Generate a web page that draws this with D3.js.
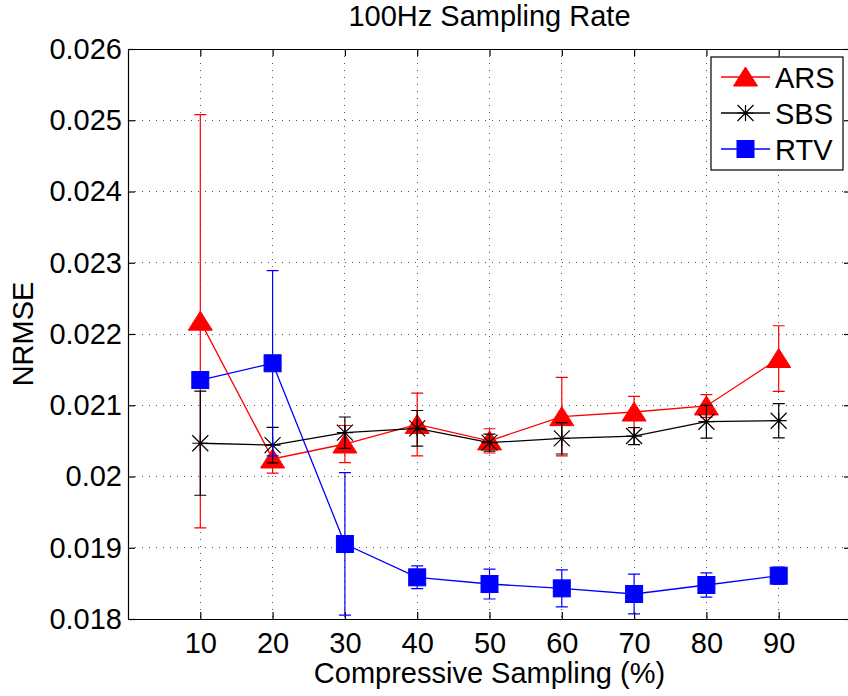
<!DOCTYPE html>
<html>
<head>
<meta charset="utf-8">
<script src="https://cdn.jsdelivr.net/npm/d3@7"></script>
<style>
  body { margin: 0; background: #fff; }
  text { font-family: "Liberation Sans", Arial, Helvetica, sans-serif; fill: #000; }
</style>
</head>
<body>
<svg width="848" height="696"></svg>
<script>
// data
var xs = [10, 20, 30, 40, 50, 60, 70, 80, 90]
var arsMean = [0.02218, 0.020246, 0.020456, 0.02073, 0.0205, 0.02084, 0.020905, 0.02099, 0.021656]
var arsErr = [0.0029, 0.0002, 0.00026, 0.00044, 0.00017, 0.00055, 0.00022, 0.00016, 0.00046]
var sbsMean = [0.020467, 0.02044, 0.020615, 0.020676, 0.020475, 0.020536, 0.020568, 0.020769, 0.020783]
var sbsErr = [0.00073, 0.00025, 0.00022, 0.00025, 0.00012, 0.00022, 0.00012, 0.00023, 0.00024]
var rtvMean = [0.021354, 0.021589, 0.019053, 0.018585, 0.018491, 0.01843, 0.018351, 0.018477, 0.018608]
var rtvErr = [0.00005, 0.0013, 0.001, 0.00016, 0.00021, 0.00026, 0.00028, 0.00017, 0.00012]
var yTicks = [0.018, 0.019, 0.02, 0.021, 0.022, 0.023, 0.024, 0.025, 0.026]
var yTickLabels = ['0.018', '0.019', '0.02', '0.021', '0.022', '0.023', '0.024', '0.025', '0.026']
var names = ['ARS', 'SBS', 'RTV']
var colors = ['#ff0000', '#000000', '#0000ff']
var markers = ['triangle', 'star', 'square']

var svg = d3.select('svg')
var pLeft = 128, pRight = 851, pTop = 49, pBottom = 619

var x = d3.scaleLinear().domain([0, 100]).range([pLeft, pRight])
var y = d3.scaleLinear().domain([0.018, 0.026]).range([pBottom, pTop])

// grid
var grid = svg.append('g')
grid.selectAll('.gx').data(xs).enter().append('line')
  .attr('x1', (d) => x(d)).attr('x2', (d) => x(d))
  .attr('y1', pTop).attr('y2', pBottom)
grid.selectAll('.gy').data(yTicks.slice(1, -1)).enter().append('line')
  .attr('x1', pLeft).attr('x2', pRight)
  .attr('y1', (d) => y(d)).attr('y2', (d) => y(d))
grid.selectAll('line')
  .style('stroke', '#555').style('stroke-width', 1)
  .style('stroke-dasharray', '1,6').style('shape-rendering', 'crispEdges')

// axes with inward ticks on all four sides
var tick = 7
svg.append('g').attr('transform', 'translate(0,' + pBottom + ')')
  .call(d3.axisBottom(x).tickValues(xs).tickSizeInner(-tick).tickSizeOuter(0).tickPadding(13))
svg.append('g').attr('transform', 'translate(0,' + pTop + ')')
  .call(d3.axisTop(x).tickValues(xs).tickSizeInner(-tick).tickSizeOuter(0).tickFormat(''))
svg.append('g').attr('transform', 'translate(' + pLeft + ',0)')
  .call(d3.axisLeft(y).tickValues(yTicks).tickSizeInner(-tick).tickSizeOuter(0).tickPadding(6)
    .tickFormat((d, i) => yTickLabels[i]))
svg.append('g').attr('transform', 'translate(' + pRight + ',0)')
  .call(d3.axisRight(y).tickValues(yTicks).tickSizeInner(-tick).tickSizeOuter(0).tickFormat(''))
svg.selectAll('.domain, .tick line').style('stroke', '#000').style('stroke-width', 1.2)
svg.selectAll('.tick text').style('font-size', '29px')
  .style('font-family', '"Liberation Sans", Arial, sans-serif').style('fill', '#000')

// labels
svg.append('text').attr('x', (pLeft + pRight) / 2).attr('y', 26)
  .attr('text-anchor', 'middle').style('font-size', '29px').text('100Hz Sampling Rate')
svg.append('text').attr('x', (pLeft + pRight) / 2).attr('y', 683)
  .attr('text-anchor', 'middle').style('font-size', '29px').text('Compressive Sampling (%)')
svg.append('text').attr('transform', 'translate(33,' + (pTop + pBottom) / 2 + ') rotate(-90)')
  .attr('text-anchor', 'middle').style('font-size', '29px').text('NRMSE')

function drawMarker (g, type, color, cx, cy) {
  if (type === 'triangle') {
    g.append('path')
      .attr('d', 'M' + cx + ',' + (cy - 10) + 'L' + (cx + 12) + ',' + (cy + 9) + 'L' + (cx - 12) + ',' + (cy + 9) + 'Z')
      .style('fill', color).style('stroke', color).style('stroke-width', 1)
  } else if (type === 'square') {
    g.append('rect').attr('x', cx - 8.5).attr('y', cy - 8.5).attr('width', 17).attr('height', 17)
      .style('fill', color).style('stroke', color).style('stroke-width', 1)
  } else {
    var r = 8
    g.append('path')
      .attr('d', 'M' + (cx - r) + ',' + (cy - r) + 'L' + (cx + r) + ',' + (cy + r) +
        'M' + (cx - r) + ',' + (cy + r) + 'L' + (cx + r) + ',' + (cy - r) +
        'M' + (cx - r) + ',' + cy + 'L' + (cx + r) + ',' + cy +
        'M' + cx + ',' + (cy - r) + 'L' + cx + ',' + (cy + r))
      .style('fill', 'none').style('stroke', color).style('stroke-width', 1.2)
  }
}

var series = [
  { mean: arsMean, err: arsErr },
  { mean: sbsMean, err: sbsErr },
  { mean: rtvMean, err: rtvErr }
]

var line = d3.line().x((d) => x(d.x)).y((d) => y(d.v))

series.forEach((s, k) => {
  var g = svg.append('g')
  var pts = xs.map((v, i) => ({ x: v, v: s.mean[i], e: s.err[i] }))
  var cap = 6
  // error bars
  pts.forEach((p) => {
    var hi = y(p.v + p.e), lo = y(p.v - p.e), cx = x(p.x)
    g.append('path')
      .attr('d', 'M' + cx + ',' + hi + 'L' + cx + ',' + lo +
        'M' + (cx - cap) + ',' + hi + 'L' + (cx + cap) + ',' + hi +
        'M' + (cx - cap) + ',' + lo + 'L' + (cx + cap) + ',' + lo)
      .style('stroke', colors[k]).style('stroke-width', 1.2).style('fill', 'none')
  })
  g.append('path').datum(pts).attr('d', line)
    .style('fill', 'none').style('stroke', colors[k]).style('stroke-width', 1.3)
  pts.forEach((p) => drawMarker(g, markers[k], colors[k], x(p.x), y(p.v)))
})

// legend
var lg = svg.append('g')
lg.append('rect').attr('x', 711).attr('y', 57).attr('width', 132).attr('height', 113)
  .style('fill', '#fff').style('stroke', '#000').style('stroke-width', 1.2)
names.forEach((n, k) => {
  var ry = 77 + k * 36
  lg.append('line').attr('x1', 721).attr('x2', 770).attr('y1', ry).attr('y2', ry)
    .style('stroke', colors[k]).style('stroke-width', 1.3)
  drawMarker(lg, markers[k], colors[k], 745.5, ry)
  lg.append('text').attr('x', 775).attr('y', ry + 11).style('font-size', '29px').text(n)
})
</script>
</body>
</html>
